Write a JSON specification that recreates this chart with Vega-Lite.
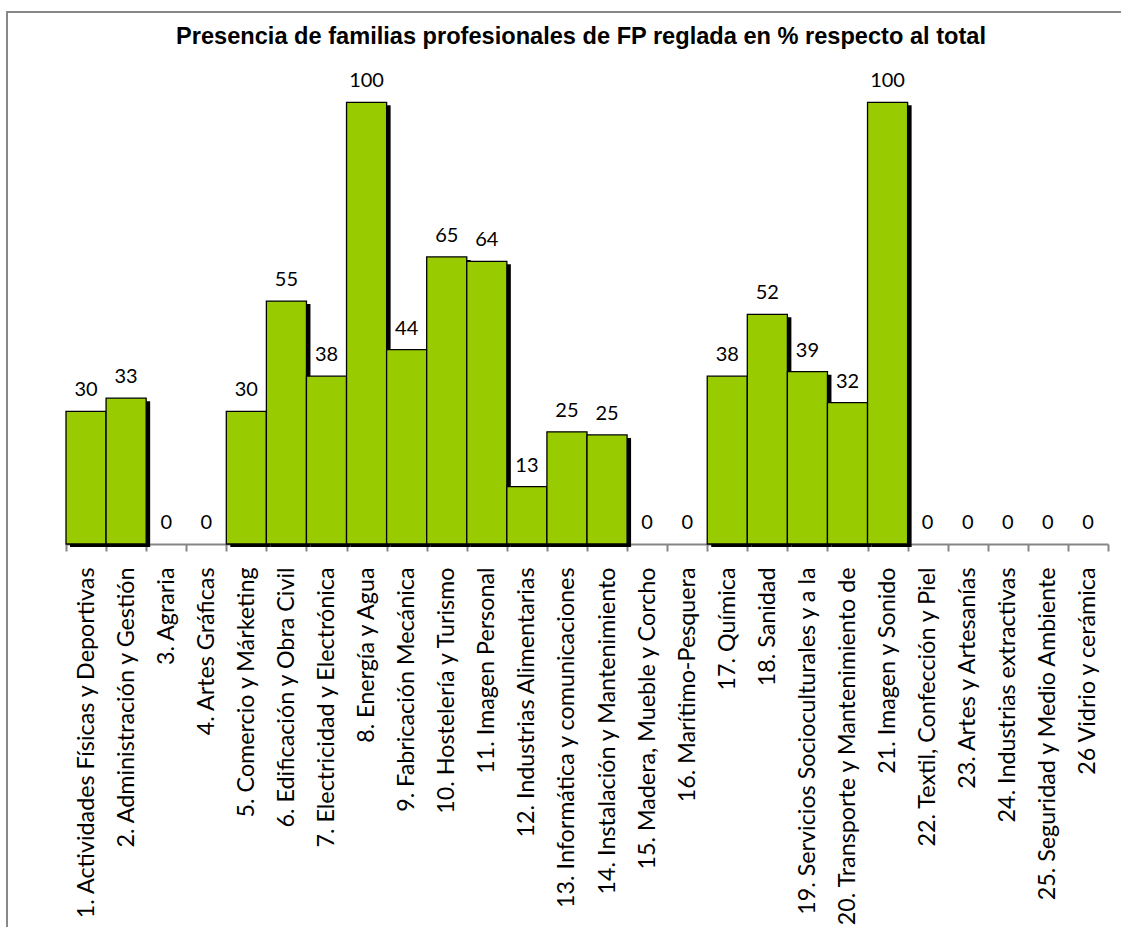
{
  "$schema": "https://vega.github.io/schema/vega-lite/v6.json",
  "width": 1120,
  "height": 1000,
  "autosize": {"type": "none"},
  "padding": {"left": 7, "top": 12, "right": -6, "bottom": -85},
  "background": "white",
  "title": {
    "text": "Presencia de familias profesionales de FP reglada en % respecto al total",
    "font": "Liberation Sans",
    "fontWeight": "bold",
    "fontSize": 23.6,
    "color": "black",
    "anchor": "middle",
    "baseline": "alphabetic",
    "offset": -31,
    "dx": 14,
    "dy": 25
  },
  "config": {
    "view": {"stroke": "#888888", "strokeWidth": 2}
  },
  "data": {
    "values": [
      {"familia": "1. Actividades Físicas y Deportivas", "v": 30},
      {"familia": "2. Administración y Gestión", "v": 33},
      {"familia": "3. Agraria", "v": 0},
      {"familia": "4. Artes Gráficas", "v": 0},
      {"familia": "5. Comercio y Márketing", "v": 30},
      {"familia": "6. Edificación y Obra Civil", "v": 55},
      {"familia": "7. Electricidad y Electrónica", "v": 38},
      {"familia": "8. Energía y Agua", "v": 100},
      {"familia": "9. Fabricación Mecánica", "v": 44},
      {"familia": "10. Hostelería y Turismo", "v": 65},
      {"familia": "11. Imagen Personal", "v": 64},
      {"familia": "12. Industrias Alimentarias", "v": 13},
      {"familia": "13. Informática y comunicaciones", "v": 25.4},
      {"familia": "14. Instalación y Mantenimiento", "v": 24.7},
      {"familia": "15. Madera, Mueble y Corcho", "v": 0},
      {"familia": "16. Marítimo-Pesquera", "v": 0},
      {"familia": "17. Química", "v": 38},
      {"familia": "18. Sanidad", "v": 52},
      {"familia": "19. Servicios Socioculturales y a la", "v": 39},
      {"familia": "20. Transporte y Mantenimiento de", "v": 32},
      {"familia": "21. Imagen y Sonido", "v": 100},
      {"familia": "22. Textil, Confección y Piel", "v": 0},
      {"familia": "23. Artes y Artesanías", "v": 0},
      {"familia": "24. Industrias extractivas", "v": 0},
      {"familia": "25. Seguridad y Medio Ambiente", "v": 0},
      {"familia": "26 Vidrio y cerámica", "v": 0}
    ]
  },
  "encoding": {
    "x": {
      "field": "familia",
      "type": "nominal",
      "sort": [
        "1. Actividades Físicas y Deportivas",
        "2. Administración y Gestión",
        "3. Agraria",
        "4. Artes Gráficas",
        "5. Comercio y Márketing",
        "6. Edificación y Obra Civil",
        "7. Electricidad y Electrónica",
        "8. Energía y Agua",
        "9. Fabricación Mecánica",
        "10. Hostelería y Turismo",
        "11. Imagen Personal",
        "12. Industrias Alimentarias",
        "13. Informática y comunicaciones",
        "14. Instalación y Mantenimiento",
        "15. Madera, Mueble y Corcho",
        "16. Marítimo-Pesquera",
        "17. Química",
        "18. Sanidad",
        "19. Servicios Socioculturales y a la",
        "20. Transporte y Mantenimiento de",
        "21. Imagen y Sonido",
        "22. Textil, Confección y Piel",
        "23. Artes y Artesanías",
        "24. Industrias extractivas",
        "25. Seguridad y Medio Ambiente",
        "26 Vidrio y cerámica"
      ],
      "scale": {"range": [59, 1101], "paddingInner": 0, "paddingOuter": 0},
      "axis": {
        "title": null,
        "orient": "bottom",
        "offset": -468,
        "domainColor": "#868686",
        "domainWidth": 2,
        "tickColor": "#868686",
        "tickWidth": 2,
        "tickSize": 7,
        "tickBand": "extent",
        "labelAngle": -90,
        "labelAlign": "right",
        "labelBaseline": "middle",
        "labelFont": "Lato",
        "labelFontSize": 23.3,
        "labelColor": "black",
        "labelPadding": 16,
        "labelLimit": 2000,
        "labelOverlap": false
      }
    },
    "y": {
      "field": "v",
      "type": "quantitative",
      "scale": {"domain": [-105.96, 120.44], "nice": false, "zero": false},
      "axis": null
    }
  },
  "layer": [
    {
      "transform": [{"filter": "datum.v > 0"}],
      "mark": {"type": "bar", "color": "black", "xOffset": 4, "yOffset": 3}
    },
    {
      "transform": [{"filter": "datum.v > 0"}],
      "mark": {"type": "bar", "fill": "#99CC00", "stroke": "black", "strokeWidth": 1.3}
    },
    {
      "mark": {"type": "text", "font": "Lato", "fontSize": 20, "color": "black", "baseline": "alphabetic", "dy": -15},
      "encoding": {"text": {"field": "v", "type": "quantitative", "format": ".0f"}}
    }
  ]
}
